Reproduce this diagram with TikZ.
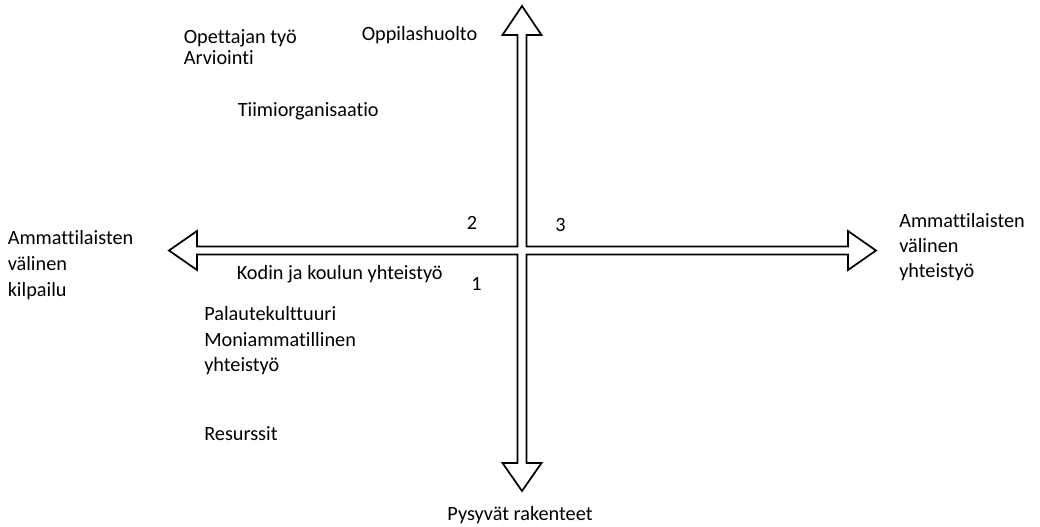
\documentclass[tikz,border=0pt]{standalone}
\usepackage{fontspec}
\setmainfont{Carlito}[Ligatures=NoCommon]
\begin{document}
\begin{tikzpicture}[x=0.75pt,y=-0.75pt,
  lbl/.style={inner sep=0pt,anchor=base west,font=\fontsize{15.2}{19}\selectfont},
  lblc/.style={inner sep=0pt,anchor=base,font=\fontsize{15.2}{19}\selectfont},
  crossarrow/.style={draw=black,line width=1.3pt,line join=miter,fill=white}]
\useasboundingbox (0,0) rectangle (1040,526);
% four-way block arrow
\draw[crossarrow]
  (522,6) -- (541.5,35) -- (526.5,35) -- (526.5,246.5) -- (848,246.5) -- (848,231)
  -- (876,250.5) -- (848,270) -- (848,254.5) -- (526.5,254.5) -- (526.5,463)
  -- (541.5,463) -- (522,491) -- (502.5,463) -- (517.5,463) -- (517.5,254.5)
  -- (197,254.5) -- (197,270) -- (169,250.5) -- (197,231) -- (197,246.5)
  -- (517.5,246.5) -- (517.5,35) -- (502.5,35) -- cycle;
% axis labels
\node[lbl] (l1) at (7.5,244) {Ammattilaisten};
\node[lbl] (l2) at (7.5,270) {välinen};
\node[lbl] (l3) at (7.5,296) {kilpailu};
\node[lbl] (r1) at (899,227.5) {Ammattilaisten};
\node[lbl] (r2) at (899,252.5) {välinen};
\node[lbl] (r3) at (899,277.5) {yhteistyö};
\node[lblc] (bot) at (520,520.3) {Pysyvät rakenteet};
% quadrant numbers
\node[lbl] (n2) at (466.5,229.5) {2};
\node[lbl] (n3) at (555,231) {3};
\node[lbl] (n1) at (471,290.5) {1};
% items
\node[lbl] (t1) at (183.5,43.3) {Opettajan työ};
\node[lbl] (t2) at (183.5,64.3) {Arviointi};
\node[lbl] (t3) at (361.5,40) {Oppilashuolto};
\node[lbl] (t4) at (237.5,116.7) {Tiimiorganisaatio};
\node[lbl] (b1) at (236.5,279.3) {Kodin ja koulun yhteistyö};
\node[lbl] (b2) at (204,320.7) {Palautekulttuuri};
\node[lbl] (b3) at (204,346.7) {Moniammatillinen};
\node[lbl] (b4) at (204,371.7) {yhteistyö};
\node[lbl] (b5) at (204,440) {Resurssit};
\end{tikzpicture}
\end{document}
